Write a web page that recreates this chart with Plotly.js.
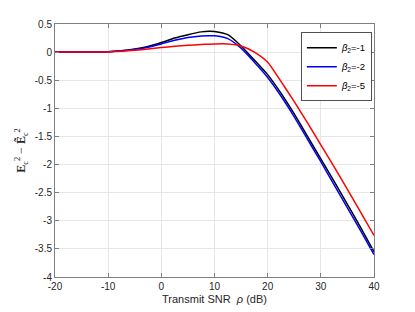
<!DOCTYPE html>
<html>
<head>
<meta charset="utf-8">
<script src="https://cdn.plot.ly/plotly-3.0.1.min.js"></script>
<style>html,body{margin:0;padding:0;background:#fff;}#chart{width:415px;height:312px;}</style>
</head>
<body>
<div id="chart"></div>
<script>
const snr = [-20, -17.5, -15, -12.5, -10, -7.5, -5, -2.5, 0, 2.5, 5, 7.5, 9, 10, 12.5, 15, 17.5, 20, 22.5, 25, 27.5, 30, 32.5, 35, 37.5, 40];
const beta1 = [0, 0, 0, 0.002, 0.008, 0.025, 0.055, 0.1, 0.17, 0.25, 0.31, 0.36, 0.372, 0.368, 0.31, 0.11, -0.14, -0.4, -0.73, -1.1, -1.5, -1.9, -2.3, -2.71, -3.12, -3.55];
const beta2 = [0, 0, 0, 0.002, 0.007, 0.022, 0.048, 0.088, 0.145, 0.21, 0.26, 0.288, 0.293, 0.29, 0.24, 0.07, -0.18, -0.45, -0.78, -1.15, -1.55, -1.95, -2.36, -2.77, -3.18, -3.6];
const beta5 = [0, 0, 0, 0.001, 0.004, 0.014, 0.032, 0.055, 0.08, 0.103, 0.12, 0.135, 0.142, 0.145, 0.145, 0.11, 0.0, -0.18, -0.52, -0.88, -1.26, -1.65, -2.04, -2.44, -2.85, -3.26];
const names = ['<i>β</i><sub>2</sub>=-1', '<i>β</i><sub>2</sub>=-2', '<i>β</i><sub>2</sub>=-5'];
const colors = ['#000000', '#0000ff', '#ff0000'];
const xTicks = [-20, -10, 0, 10, 20, 30, 40];
const xTickText = ['-20', '-10', '0', '10', '20', '30', '40'];
const yTicks = [0.5, 0, -0.5, -1, -1.5, -2, -2.5, -3, -3.5, -4];
const yTickText = ['0.5', '0', '-0.5', '-1', '-1.5', '-2', '-2.5', '-3', '-3.5', '-4'];

const series = [beta1, beta2, beta5];
const traces = series.map((ys, i) => ({
  x: snr, y: ys, type: 'scatter', mode: 'lines', name: names[i],
  line: {color: colors[i], width: 1.5, shape: 'spline', smoothing: 0.6}
}));

const axisCommon = {
  showline: true, linecolor: '#808080', linewidth: 1, mirror: 'allticks',
  ticks: 'inside', ticklen: 4, tickcolor: '#808080',
  showgrid: true, gridcolor: '#e6e6e6', gridwidth: 1, zeroline: false,
  tickfont: {family: 'Liberation Sans, Arial, sans-serif', size: 10, color: '#262626'}
};

const layout = {
  width: 415, height: 312,
  margin: {l: 55, r: 40.5, t: 24, b: 35},
  paper_bgcolor: '#ffffff', plot_bgcolor: '#ffffff',
  showlegend: true,
  legend: {
    x: 0.994, y: 0.967, xanchor: 'right', yanchor: 'top',
    bgcolor: '#ffffff', bordercolor: '#262626', borderwidth: 0.8,
    font: {family: 'Liberation Sans, Arial, sans-serif', size: 9.5, color: '#000'},
    tracegroupgap: 0, itemwidth: 30
  },
  xaxis: Object.assign({}, axisCommon, {
    range: [-20, 40], tickvals: xTicks, ticktext: xTickText,
    title: {text: 'Transmit SNR  <i>ρ</i> (dB)', standoff: 4,
      font: {family: 'Liberation Sans, Arial, sans-serif', size: 11, color: '#262626'}}
  }),
  yaxis: Object.assign({}, axisCommon, {
    range: [-4, 0.5], tickvals: yTicks, ticktext: yTickText,
    title: {text: '<b>E</b><sub>c</sub><sup>2</sup> − <b>Ẽ</b><sub>c</sub><sup>2</sup>', standoff: 6,
      font: {family: 'Liberation Serif, DejaVu Serif, serif', size: 12, color: '#262626'}}
  })
};

Plotly.newPlot('chart', traces, layout, {displayModeBar: false, staticPlot: true});
</script>
</body>
</html>
